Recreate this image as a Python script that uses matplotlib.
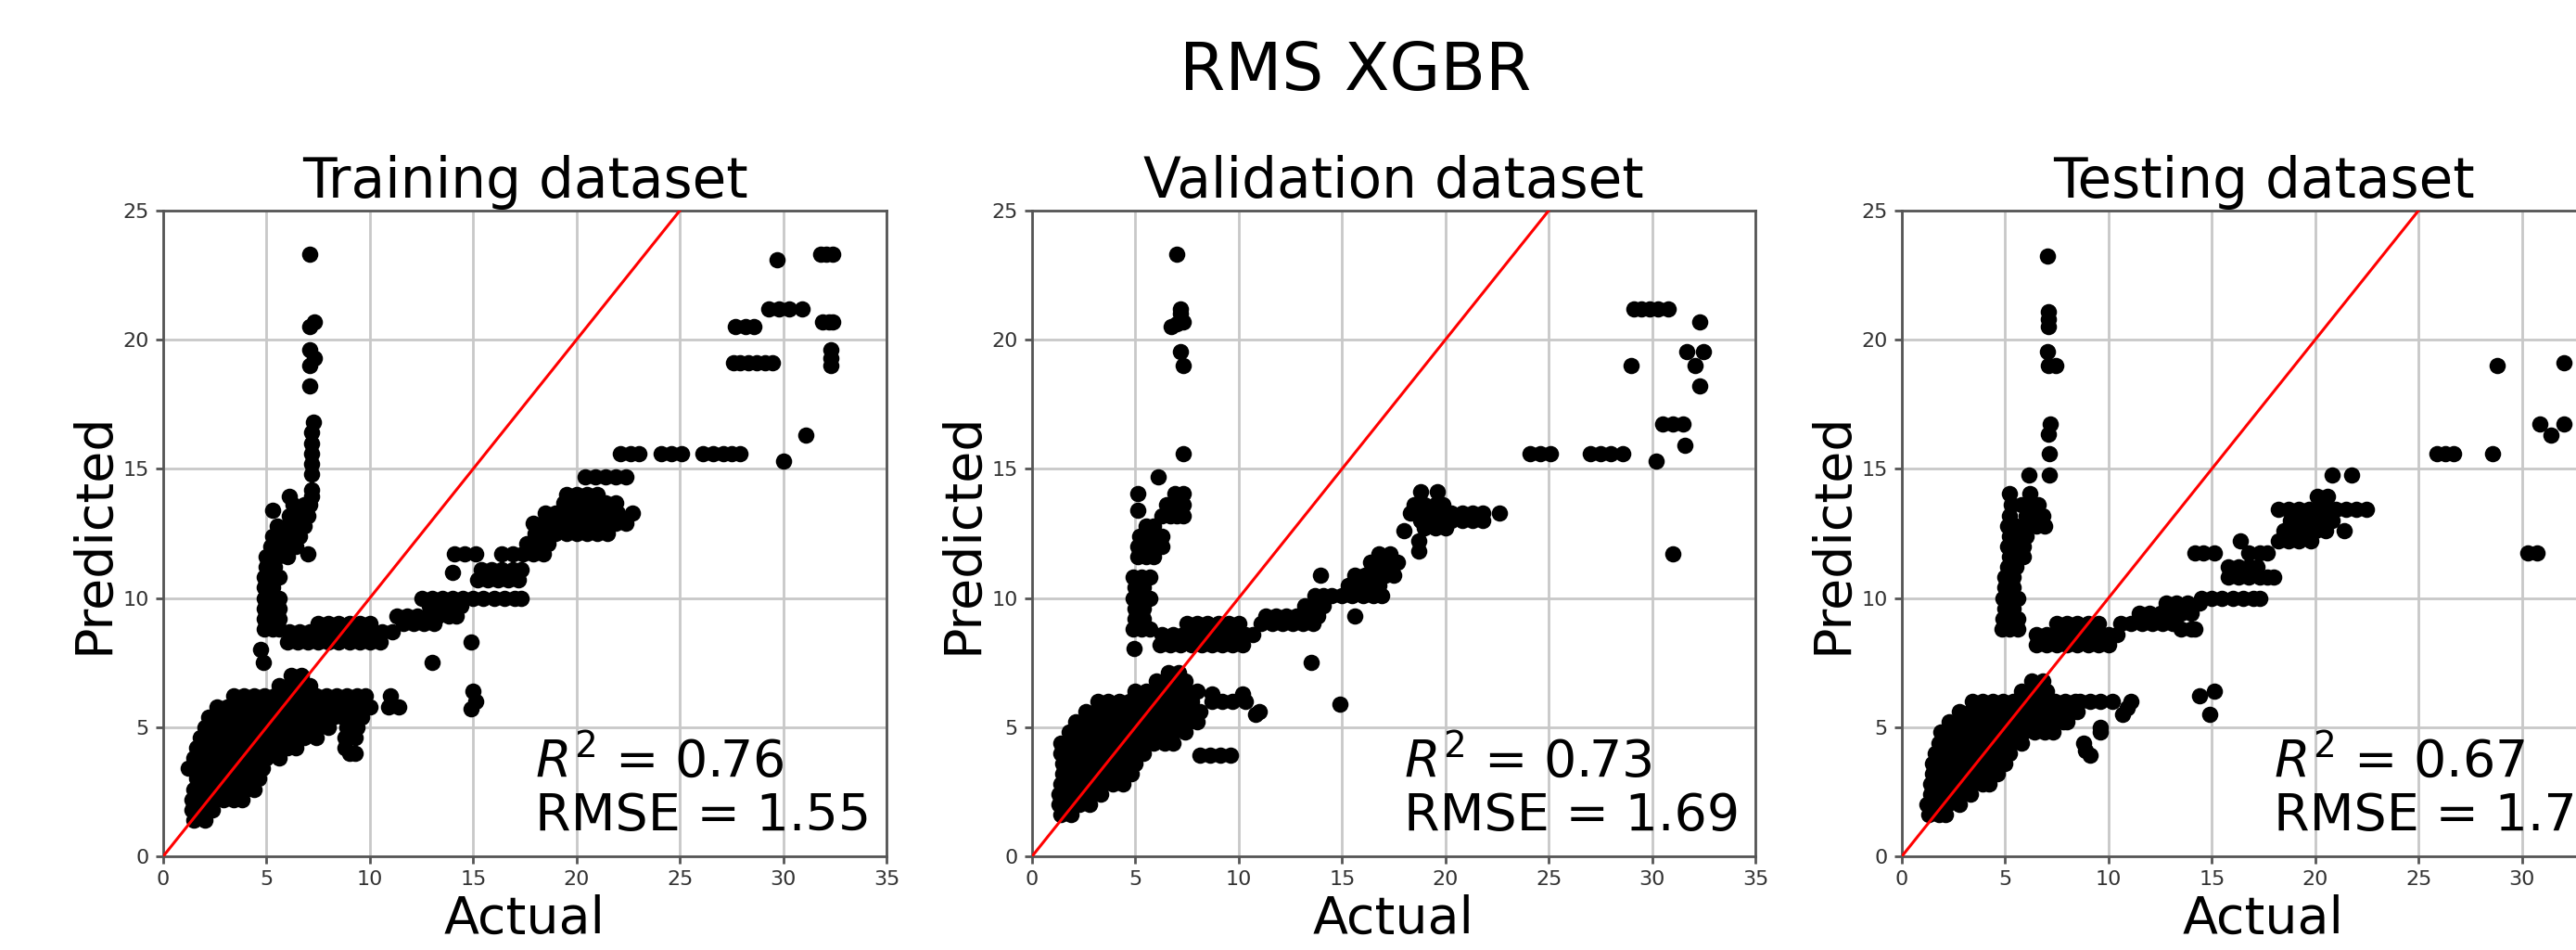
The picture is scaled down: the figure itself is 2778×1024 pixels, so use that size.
import matplotlib
matplotlib.use('Agg')
import matplotlib.pyplot as plt

# rows of points: (predicted, [actual values on that row])
train_rows = [
    (1.4, [1.5, 2.0]),
    (1.8, [1.4, 1.9, 2.4]),
    (2.2, [1.4, 1.9, 2.4, 2.9, 3.4, 3.8]),
    (2.6, [1.5, 2.0, 2.5, 3.0, 3.5, 4.0, 4.4]),
    (3.0, [1.6, 2.1, 2.6, 3.1, 3.6, 4.1, 4.6]),
    (3.4, [1.2, 1.7, 2.2, 2.7, 3.2, 3.7, 4.2, 4.8]),
    (3.8, [1.5, 2.0, 2.5, 3.0, 3.5, 4.0, 4.5, 5.0, 5.6]),
    (4.0, [9.0, 9.3]),
    (4.2, [1.6, 2.1, 2.6, 3.1, 3.6, 4.1, 4.6, 5.1, 5.6, 6.0, 6.4, 8.8]),
    (4.6, [1.8, 2.3, 2.8, 3.3, 3.8, 4.3, 4.8, 5.3, 5.8, 6.3, 6.8, 7.4, 8.8, 9.3]),
    (5.0, [2.0, 2.5, 3.0, 3.5, 4.0, 4.5, 5.0, 5.5, 6.0, 6.5, 7.0, 7.5, 8.0, 8.9, 9.4]),
    (5.4, [2.2, 2.7, 3.2, 3.7, 4.2, 4.7, 5.2, 5.7, 6.2, 6.7, 7.2, 7.7, 8.2, 8.7, 9.2, 9.6]),
    (5.7, [14.9]),
    (5.8, [2.6, 3.1, 3.6, 4.1, 4.6, 5.1, 5.6, 6.1, 6.6, 7.1, 7.6, 8.1, 8.6, 9.1, 9.6, 10.0, 10.9, 11.4]),
    (6.0, [15.1]),
    (6.2, [3.4, 3.9, 4.4, 4.9, 5.4, 5.9, 6.4, 6.9, 7.4, 7.9, 8.4, 8.9, 9.4, 9.8, 11.0]),
    (6.4, [15.0]),
    (6.6, [5.6, 6.1, 6.6, 7.1]),
    (7.0, [6.2, 6.7]),
    (7.5, [4.85, 13.0]),
    (8.0, [4.7]),
    (8.3, [6.0, 6.5, 7.0, 7.5, 8.0, 8.5, 9.0, 9.5, 10.0, 10.5, 14.9]),
    (8.7, [6.1, 6.6, 7.1, 7.6, 8.1, 8.6, 9.1, 9.6, 10.1, 10.6, 11.1]),
    (8.8, [4.9, 5.3, 5.6]),
    (9.0, [7.5, 8.0, 8.5, 9.0, 9.5, 10.0, 11.6, 12.1, 12.6, 13.1]),
    (9.2, [4.9, 5.3, 5.6]),
    (9.3, [11.3, 11.8, 12.3, 12.8, 13.3, 13.8, 14.2]),
    (9.6, [4.9, 5.3, 5.6]),
    (9.7, [12.9, 13.4, 13.9, 14.4]),
    (10.0, [4.9, 5.3, 5.6, 12.5, 13.0, 13.5, 14.0, 14.5, 15.0, 15.5, 16.0, 16.5, 17.0, 17.3]),
    (10.4, [4.9, 5.3]),
    (10.7, [15.2, 15.7, 16.2, 16.7, 17.2]),
    (10.8, [4.9, 5.3, 5.6]),
    (11.0, [14.0]),
    (11.1, [15.4, 15.9, 16.4, 16.9, 17.3]),
    (11.2, [5.0, 5.4]),
    (11.6, [5.0, 5.5, 6.0]),
    (11.7, [7.0, 14.1, 14.6, 15.1, 16.4, 16.9, 17.4, 17.9, 18.4]),
    (12.0, [5.2, 5.6, 6.0, 6.4]),
    (12.1, [17.6, 18.1, 18.6]),
    (12.4, [5.3, 5.8, 6.2, 6.6]),
    (12.5, [18.0, 18.5, 19.0, 19.5, 20.0, 20.5, 21.0, 21.5]),
    (12.8, [5.5, 6.0, 6.4, 6.8]),
    (12.9, [17.9, 18.4, 18.9, 19.4, 19.9, 20.4, 20.9, 21.4, 21.9, 22.4]),
    (13.2, [6.1, 6.6, 7.0]),
    (13.3, [18.5, 19.0, 19.5, 20.0, 20.5, 21.0, 21.5, 22.0, 22.7]),
    (13.4, [5.3]),
    (13.6, [6.3, 6.8, 7.1]),
    (13.7, [19.4, 19.9, 20.4, 20.9, 21.4, 21.9]),
    (13.95, [6.1, 7.2]),
    (14.0, [19.5, 20.0, 20.5, 21.0]),
    (14.2, [7.2]),
    (14.7, [20.4, 20.9, 21.4, 21.9, 22.4]),
    (14.8, [7.2]),
    (15.2, [7.2]),
    (15.3, [30.0]),
    (15.6, [7.2, 22.1, 22.6, 23.0, 24.1, 24.6, 25.1, 26.1, 26.6, 27.1, 27.5, 27.9]),
    (16.0, [7.2]),
    (16.3, [31.1]),
    (16.4, [7.2]),
    (16.8, [7.25]),
    (18.2, [7.1]),
    (19.0, [7.1, 32.3]),
    (19.1, [27.6, 27.9, 28.3, 28.7, 29.1, 29.5]),
    (19.3, [7.3, 32.3]),
    (19.6, [7.1, 32.3]),
    (20.5, [7.1, 27.7, 28.2, 28.6]),
    (20.7, [7.3, 31.9, 32.2, 32.4]),
    (21.2, [29.3, 29.8, 30.3, 30.9]),
    (23.1, [29.7]),
    (23.3, [7.1, 31.8, 32.1, 32.4]),
]

valid_rows = [
    (1.6, [1.4, 1.9]),
    (2.0, [1.3, 1.8, 2.3, 2.8]),
    (2.4, [1.3, 1.8, 2.3, 2.8, 3.3]),
    (2.8, [1.4, 1.9, 2.4, 2.9, 3.4, 3.9, 4.4]),
    (3.2, [1.5, 2.0, 2.5, 3.0, 3.5, 4.0, 4.5, 4.8]),
    (3.6, [1.5, 2.0, 2.5, 3.0, 3.5, 4.0, 4.5, 5.0]),
    (3.9, [8.1, 8.6, 9.1, 9.6]),
    (4.0, [1.4, 1.9, 2.4, 2.9, 3.4, 3.9, 4.4, 4.9, 5.4]),
    (4.4, [1.4, 1.9, 2.4, 2.9, 3.4, 3.9, 4.4, 4.9, 5.4, 5.9, 6.4, 6.8]),
    (4.8, [1.8, 2.3, 2.8, 3.3, 3.8, 4.3, 4.8, 5.3, 5.8, 6.3, 6.8, 7.4]),
    (5.2, [2.1, 2.6, 3.1, 3.6, 4.1, 4.6, 5.1, 5.6, 6.1, 6.6, 7.1, 7.6, 8.0]),
    (5.5, [10.8]),
    (5.6, [2.6, 3.1, 3.6, 4.1, 4.6, 5.1, 5.6, 6.1, 6.6, 7.1, 7.6, 8.1, 11.0]),
    (5.9, [14.9]),
    (6.0, [3.2, 3.7, 4.2, 4.7, 5.2, 5.7, 6.2, 6.7, 7.2, 7.7, 8.7, 9.2, 9.7, 10.3]),
    (6.3, [8.7, 10.2]),
    (6.4, [5.0, 5.5, 6.0, 6.5, 7.0, 7.5, 8.0]),
    (6.8, [6.0, 6.5, 7.0, 7.4]),
    (7.1, [6.6, 7.1]),
    (7.5, [13.5]),
    (8.05, [4.95]),
    (8.2, [6.2, 6.7, 7.2, 7.7, 8.2, 8.7, 9.2, 9.7, 10.2]),
    (8.6, [6.3, 6.8, 7.3, 7.8, 8.3, 8.8, 9.3, 9.8, 10.3, 10.7]),
    (8.8, [4.9, 5.3, 5.7]),
    (9.0, [7.5, 8.0, 8.5, 9.0, 9.5, 10.0, 11.1, 11.6, 12.1, 12.6, 13.1, 13.6]),
    (9.2, [5.0, 5.4]),
    (9.3, [11.3, 11.8, 12.3, 12.8, 13.3, 13.8, 15.6]),
    (9.6, [5.0, 5.4]),
    (9.7, [13.2, 13.7, 14.1]),
    (10.0, [4.9, 5.3, 5.7]),
    (10.1, [13.7, 14.1, 14.5, 15.0, 15.5, 16.0, 16.5, 16.9]),
    (10.4, [5.0, 5.4]),
    (10.5, [15.3, 15.8, 16.3, 16.8]),
    (10.8, [4.9, 5.3, 5.7]),
    (10.9, [13.95, 15.6, 16.1, 16.6, 17.1, 17.5]),
    (11.4, [16.4, 16.9, 17.4, 17.7]),
    (11.6, [5.1, 5.5, 5.9]),
    (11.7, [16.8, 17.3, 31.0]),
    (11.8, [18.7]),
    (12.0, [5.1, 5.5, 5.9, 6.3]),
    (12.2, [18.7]),
    (12.4, [5.2, 5.6, 6.0, 6.3]),
    (12.6, [18.0]),
    (12.7, [19.0, 19.5, 20.0]),
    (12.8, [5.5, 5.9]),
    (13.0, [18.8, 19.3, 19.8, 20.3, 20.8, 21.3, 21.8]),
    (13.2, [6.3, 6.7, 7.0, 7.3]),
    (13.3, [18.3, 18.8, 19.3, 19.8, 20.3, 20.8, 21.3, 21.8, 22.6]),
    (13.4, [5.1]),
    (13.6, [6.5, 6.9, 7.3, 18.5, 19.0, 19.5, 19.9]),
    (14.05, [5.1, 6.9, 7.3]),
    (14.1, [18.8, 19.6]),
    (14.7, [6.1]),
    (15.3, [30.2]),
    (15.6, [7.3, 24.1, 24.6, 25.1, 27.0, 27.5, 28.0, 28.6]),
    (15.9, [31.6]),
    (16.75, [30.5, 31.0, 31.5]),
    (18.2, [32.3]),
    (19.0, [7.3, 29.0, 32.1]),
    (19.55, [7.2, 31.7, 32.5]),
    (20.5, [6.75]),
    (20.6, [7.0]),
    (20.7, [7.3, 32.3]),
    (21.0, [7.2]),
    (21.2, [7.2, 29.1, 29.5, 29.9, 30.3, 30.8]),
    (23.3, [7.0]),
]

test_rows = [
    (1.6, [1.3, 1.8, 2.1]),
    (2.0, [1.2, 1.7, 2.2, 2.8]),
    (2.4, [1.4, 1.9, 2.4, 2.9, 3.3]),
    (2.8, [1.4, 1.9, 2.4, 2.9, 3.4, 3.9, 4.2]),
    (3.2, [1.5, 2.0, 2.5, 3.0, 3.5, 4.0, 4.6]),
    (3.6, [1.5, 2.0, 2.5, 3.0, 3.5, 4.0, 4.5, 5.0]),
    (3.9, [9.1]),
    (4.0, [1.6, 2.1, 2.6, 3.1, 3.6, 4.1, 4.6, 5.2]),
    (4.1, [8.9]),
    (4.4, [1.8, 2.3, 2.8, 3.3, 3.8, 4.3, 4.8, 5.3, 5.8, 8.8]),
    (4.8, [1.9, 2.4, 2.9, 3.4, 3.9, 4.4, 4.9, 5.4, 5.9, 6.4, 6.9, 7.3, 9.6]),
    (5.0, [9.6]),
    (5.2, [2.3, 2.8, 3.3, 3.8, 4.3, 4.8, 5.3, 5.8, 6.3, 6.8, 7.3, 7.8, 8.0]),
    (5.5, [10.7, 14.9]),
    (5.6, [2.8, 3.3, 3.8, 4.3, 4.8, 5.3, 5.8, 6.3, 6.8, 7.3, 7.8, 8.3, 8.5]),
    (5.75, [10.9]),
    (6.0, [3.4, 3.9, 4.4, 4.9, 5.4, 5.9, 6.4, 6.9, 7.4, 7.9, 8.4, 8.6, 9.1, 9.6, 10.2, 11.1]),
    (6.2, [14.4]),
    (6.4, [5.8, 6.3, 6.8, 7.0, 15.1]),
    (6.8, [6.3, 6.8]),
    (8.2, [6.5, 7.0, 7.5, 8.0, 8.5, 9.0, 9.5, 10.0]),
    (8.6, [6.5, 7.0, 7.5, 8.0, 8.5, 9.0, 9.5, 10.0, 10.4]),
    (8.8, [4.85, 5.2, 5.6, 13.5, 14.0, 14.2]),
    (9.0, [7.5, 8.0, 8.5, 9.0, 9.5, 10.6, 11.1, 11.6, 12.1, 12.6, 13.1]),
    (9.2, [4.9, 5.3, 5.6]),
    (9.4, [11.5, 12.0, 12.5, 13.0, 13.5, 14.0]),
    (9.6, [5.0, 5.4]),
    (9.8, [12.8, 13.3, 13.8, 14.4]),
    (10.0, [4.9, 5.3, 5.6, 14.5, 15.0, 15.5, 16.0, 16.5, 17.0, 17.3]),
    (10.4, [5.0, 5.4]),
    (10.8, [5.0, 5.4, 15.8, 16.3, 16.8, 17.3, 17.7, 18.0]),
    (11.2, [5.1, 5.5, 15.8, 16.3, 16.8, 17.2]),
    (11.6, [5.2, 5.6, 5.9]),
    (11.75, [14.2, 14.6, 15.1, 16.8, 17.3, 17.7, 30.3, 30.75]),
    (12.0, [5.1, 5.5, 5.9]),
    (12.2, [16.4, 18.2, 18.7, 19.2, 19.8]),
    (12.4, [5.2, 5.6, 6.0]),
    (12.6, [18.5, 19.0, 19.5, 20.0, 20.5, 21.4]),
    (12.8, [5.1, 5.5, 6.0, 6.5, 6.9]),
    (13.0, [18.8, 19.3, 19.8, 20.3, 20.8]),
    (13.2, [5.2, 6.0, 6.4, 6.8]),
    (13.45, [18.2, 18.7, 19.2, 19.7, 20.2, 20.7, 21.0, 21.5, 22.0, 22.5]),
    (13.6, [5.3, 5.8, 6.2, 6.6]),
    (13.95, [20.1, 20.6]),
    (14.05, [5.2, 6.2]),
    (14.75, [6.15, 7.15, 20.8, 21.75]),
    (15.6, [7.15, 25.9, 26.3, 26.7, 28.6]),
    (16.3, [31.4]),
    (16.35, [7.1]),
    (16.75, [7.2, 30.85, 32.05]),
    (19.0, [7.1, 7.45, 28.8]),
    (19.1, [32.05]),
    (19.55, [7.05]),
    (20.5, [7.1]),
    (20.8, [7.1]),
    (21.1, [7.1]),
    (23.25, [7.05]),
]

titles = ['Training dataset', 'Validation dataset', 'Testing dataset']
r2_values = [0.76, 0.73, 0.67]
rmse_values = [1.55, 1.69, 1.78]
all_rows = [train_rows, valid_rows, test_rows]

W, H = 2778, 1024
fig = plt.figure(figsize=(W / 100, H / 100), dpi=100)
fig.patch.set_facecolor('white')

# axes left edges in pixels (the third panel runs off the right edge, as in the source)
lefts = [176, 1113, 2051]

for i in range(3):
    xs = [x for y, row in all_rows[i] for x in row]
    ys = [y for y, row in all_rows[i] for x in row]

    ax = fig.add_axes([lefts[i] / W, 101 / H, 780 / W, 696 / H])
    ax.scatter(xs, ys, s=160, c='black', linewidths=0, zorder=2)
    ax.plot([0, 35], [0, 35], color='red', lw=2.2, zorder=3)

    ax.set_xlim(0, 35)
    ax.set_ylim(0, 25)
    ax.set_xticks(range(0, 36, 5))
    ax.set_yticks(range(0, 26, 5))
    ax.grid(True, color='#c8c8c8', lw=2)
    ax.set_axisbelow(True)
    for sp in ax.spines.values():
        sp.set_color('#555555')
        sp.set_linewidth(2)
    ax.tick_params(labelsize=16, length=6, width=2, pad=5,
                   color='#555555', labelcolor='#333333')

    ax.set_title(titles[i], fontsize=43, pad=10)
    ax.set_xlabel('Actual', fontsize=40, labelpad=4)
    ax.set_ylabel('Predicted', fontsize=40, labelpad=3)

    ax.text(18, 3.1, f'$R^2$ = {r2_values[i]:.2f}', fontsize=40, va='baseline')
    ax.text(18, 1.0, f'RMSE = {rmse_values[i]:.2f}', fontsize=40, va='baseline')

fig.text(1462 / W, 1 - 97 / H, 'RMS XGBR', ha='center', va='baseline', fontsize=51)

fig.savefig('out.png', dpi=100)
